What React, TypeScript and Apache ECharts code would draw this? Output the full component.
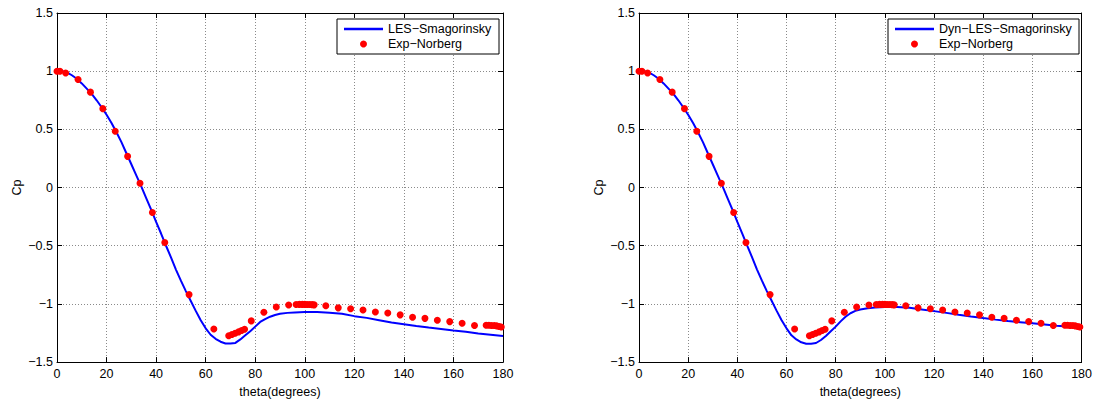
import React, { useEffect, useRef } from "react";
import * as echarts from "echarts";

// ---- data ----
const lesTheta = [0, 2, 4, 6, 8, 10, 12, 14, 16, 18, 20, 22, 24, 26, 28, 30, 32, 34, 36, 38, 40, 42, 44, 46, 48, 50, 52, 54, 56, 58, 60, 62, 64, 66, 68, 70, 72, 74, 76, 78, 80, 82, 84, 86, 88, 90, 93, 96, 100, 105, 110, 115, 120, 125, 130, 135, 140, 145, 150, 155, 160, 165, 170, 175, 180];
const lesCp = [1.0, 1.0, 0.99, 0.965, 0.935, 0.895, 0.85, 0.805, 0.75, 0.69, 0.625, 0.555, 0.475, 0.39, 0.295, 0.2, 0.105, 0.01, -0.09, -0.19, -0.295, -0.395, -0.5, -0.6, -0.705, -0.8, -0.89, -0.975, -1.06, -1.14, -1.21, -1.265, -1.3, -1.325, -1.34, -1.34, -1.335, -1.305, -1.27, -1.235, -1.195, -1.155, -1.13, -1.11, -1.095, -1.085, -1.077, -1.073, -1.07, -1.07, -1.075, -1.085, -1.105, -1.12, -1.14, -1.16, -1.175, -1.19, -1.203, -1.215, -1.228, -1.24, -1.255, -1.265, -1.275];

const dynTheta = [0, 2, 4, 6, 8, 10, 12, 14, 16, 18, 20, 22, 24, 26, 28, 30, 32, 34, 36, 38, 40, 42, 44, 46, 48, 50, 52, 54, 56, 58, 60, 62, 64, 66, 68, 70, 72, 74, 76, 78, 80, 82, 84, 86, 88, 90, 93, 96, 100, 105, 110, 115, 120, 125, 130, 135, 140, 145, 150, 155, 160, 165, 170, 175, 180];
const dynCp = [1.0, 1.0, 0.99, 0.965, 0.935, 0.895, 0.85, 0.805, 0.75, 0.69, 0.625, 0.555, 0.475, 0.39, 0.295, 0.2, 0.105, 0.01, -0.09, -0.19, -0.295, -0.395, -0.5, -0.6, -0.705, -0.8, -0.89, -0.975, -1.06, -1.14, -1.21, -1.27, -1.305, -1.33, -1.342, -1.342, -1.336, -1.31, -1.275, -1.235, -1.195, -1.15, -1.11, -1.08, -1.06, -1.048, -1.037, -1.03, -1.026, -1.026, -1.032, -1.047, -1.062, -1.077, -1.093, -1.108, -1.122, -1.135, -1.147, -1.157, -1.167, -1.177, -1.188, -1.197, -1.205];

const expTheta = [0, 1.2, 3.5, 8.5, 13.5, 18.5, 23.5, 28.5, 33.5, 38.5, 43.5, 53.3, 63.3, 69.3, 70.6, 71.9, 73.3, 74.5, 75.7, 78.4, 83.5, 88.5, 93.5, 96.5, 97.8, 99, 100, 101, 102, 103, 103.8, 108.5, 113.5, 118.5, 123.5, 128.5, 133.5, 138.5, 143.5, 148.5, 153.5, 158.5, 163.5, 168.5, 173.2, 174.3, 175.4, 176.5, 177.5, 178.5, 179.3];
const expCp = [1.0, 1.0, 0.985, 0.929, 0.82, 0.678, 0.484, 0.268, 0.037, -0.214, -0.473, -0.92, -1.216, -1.274, -1.263, -1.252, -1.24, -1.229, -1.217, -1.146, -1.071, -1.026, -1.01, -1.005, -1.004, -1.004, -1.004, -1.005, -1.005, -1.006, -1.008, -1.016, -1.034, -1.042, -1.053, -1.07, -1.078, -1.094, -1.115, -1.124, -1.141, -1.152, -1.166, -1.185, -1.183, -1.184, -1.185, -1.186, -1.189, -1.194, -1.199];

const xMin = 0, xMax = 180, xStep = 20;
const yMin = -1.5, yMax = 1.5, yStep = 0.5;

const leftNames = ["LES\u2212Smagorinsky", "Exp\u2212Norberg"];
const rightNames = ["Dyn\u2212LES\u2212Smagorinsky", "Exp\u2212Norberg"];
const xTitle = "theta(degrees)";
const yTitle = "Cp";

const FONT = "'Liberation Sans', Arial, Helvetica, sans-serif";
const LINE_ICON = "path://M0,0H39V2.4H0Z";

const fmt = (v: number) => String(v).replace("-", "\u2212");

function zip(a: number[], b: number[]) {
  return a.map((v, i) => [v, b[i]]);
}

export default function App() {
  const ref = useRef<HTMLDivElement>(null);
  useEffect(() => {
    if (!ref.current) return;
    const chart = echarts.init(ref.current, undefined, { renderer: "svg" });
    const grids = [
      { left: 57, top: 13, width: 446, height: 351 },
      { left: 639, top: 13, width: 446, height: 351 },
    ];
    const xAxes: any[] = [];
    const yAxes: any[] = [];
    grids.forEach((_, g) => {
      xAxes.push({
        gridIndex: g, type: "value", position: "bottom", min: xMin, max: xMax, interval: xStep,
        name: xTitle, nameLocation: "middle", nameGap: 20,
        nameTextStyle: { fontFamily: FONT, fontSize: 12.5, color: "#000" },
        axisLine: { show: true, onZero: false, lineStyle: { color: "#000", width: 1 } },
        axisTick: { show: true, inside: true, length: 5, lineStyle: { color: "#000" } },
        axisLabel: { show: true, margin: 5, fontFamily: FONT, fontSize: 12.5, color: "#000", formatter: fmt },
        splitLine: { show: true, lineStyle: { color: "#8a8a8a", type: [1, 2], width: 1 } },
      });
      xAxes.push({
        gridIndex: g, type: "value", position: "top", min: xMin, max: xMax, interval: xStep,
        axisLine: { show: true, onZero: false, lineStyle: { color: "#000", width: 1 } },
        axisTick: { show: true, inside: true, length: 5, lineStyle: { color: "#000" } },
        axisLabel: { show: false },
        splitLine: { show: false },
      });
      yAxes.push({
        gridIndex: g, type: "value", position: "left", min: yMin, max: yMax, interval: yStep,
        name: yTitle, nameLocation: "middle", nameGap: 34, nameRotate: 90,
        nameTextStyle: { fontFamily: FONT, fontSize: 12.5, color: "#000" },
        axisLine: { show: true, onZero: false, lineStyle: { color: "#000", width: 1 } },
        axisTick: { show: true, inside: true, length: 5, lineStyle: { color: "#000" } },
        axisLabel: { show: true, margin: 4, fontFamily: FONT, fontSize: 12.5, color: "#000", formatter: fmt },
        splitLine: { show: true, lineStyle: { color: "#8a8a8a", type: [1, 2], width: 1 } },
      });
      yAxes.push({
        gridIndex: g, type: "value", position: "right", min: yMin, max: yMax, interval: yStep,
        axisLine: { show: true, onZero: false, lineStyle: { color: "#000", width: 1 } },
        axisTick: { show: true, inside: true, length: 5, lineStyle: { color: "#000" } },
        axisLabel: { show: false },
        splitLine: { show: false },
      });
    });

    const lineSeries = (name: string, g: number, data: number[][]) => ({
      type: "line", name, xAxisIndex: g * 2, yAxisIndex: g * 2, data,
      showSymbol: false, symbol: "none", smooth: false,
      lineStyle: { color: "#0000ff", width: 2 }, itemStyle: { color: "#0000ff" }, z: 2,
    });
    const scatterSeries = (name: string, g: number, data: number[][]) => ({
      type: "scatter", name, xAxisIndex: g * 2, yAxisIndex: g * 2, data,
      symbol: "circle", symbolSize: 7, itemStyle: { color: "#ff0000", opacity: 1 }, z: 3,
    });

    const legendBase = {
      orient: "vertical", top: 19, itemWidth: 39, itemHeight: 7, itemGap: 1,
      padding: [3, 6, 3, 7], borderColor: "#000", borderWidth: 1, backgroundColor: "#fff",
      selectedMode: false,
    };

    chart.setOption({
      animation: false,
      backgroundColor: "#fff",
      grid: grids,
      xAxis: xAxes,
      yAxis: yAxes,
      legend: [
        { ...legendBase, left: 337,
          data: [{ name: leftNames[0], icon: LINE_ICON }, { name: leftNames[1], icon: "circle" }],
          textStyle: { fontFamily: FONT, fontSize: 12.5, color: "#000", lineHeight: 14, width: 105 } },
        { ...legendBase, left: 888,
          data: [{ name: rightNames[0], icon: LINE_ICON }, { name: rightNames[1], icon: "circle" }],
          textStyle: { fontFamily: FONT, fontSize: 12.5, color: "#000", lineHeight: 14, width: 134 } },
      ],
      series: [
        lineSeries(leftNames[0], 0, zip(lesTheta, lesCp)),
        scatterSeries(leftNames[1], 0, zip(expTheta, expCp)),
        lineSeries(rightNames[0], 1, zip(dynTheta, dynCp)),
        scatterSeries(rightNames[1], 1, zip(expTheta, expCp)),
      ],
    });
    return () => chart.dispose();
  }, []);
  return (
    <div
      ref={ref}
      style={{ position: "absolute", left: 0, top: 0, width: 1095, height: 403, background: "#fff" }}
    />
  );
}
